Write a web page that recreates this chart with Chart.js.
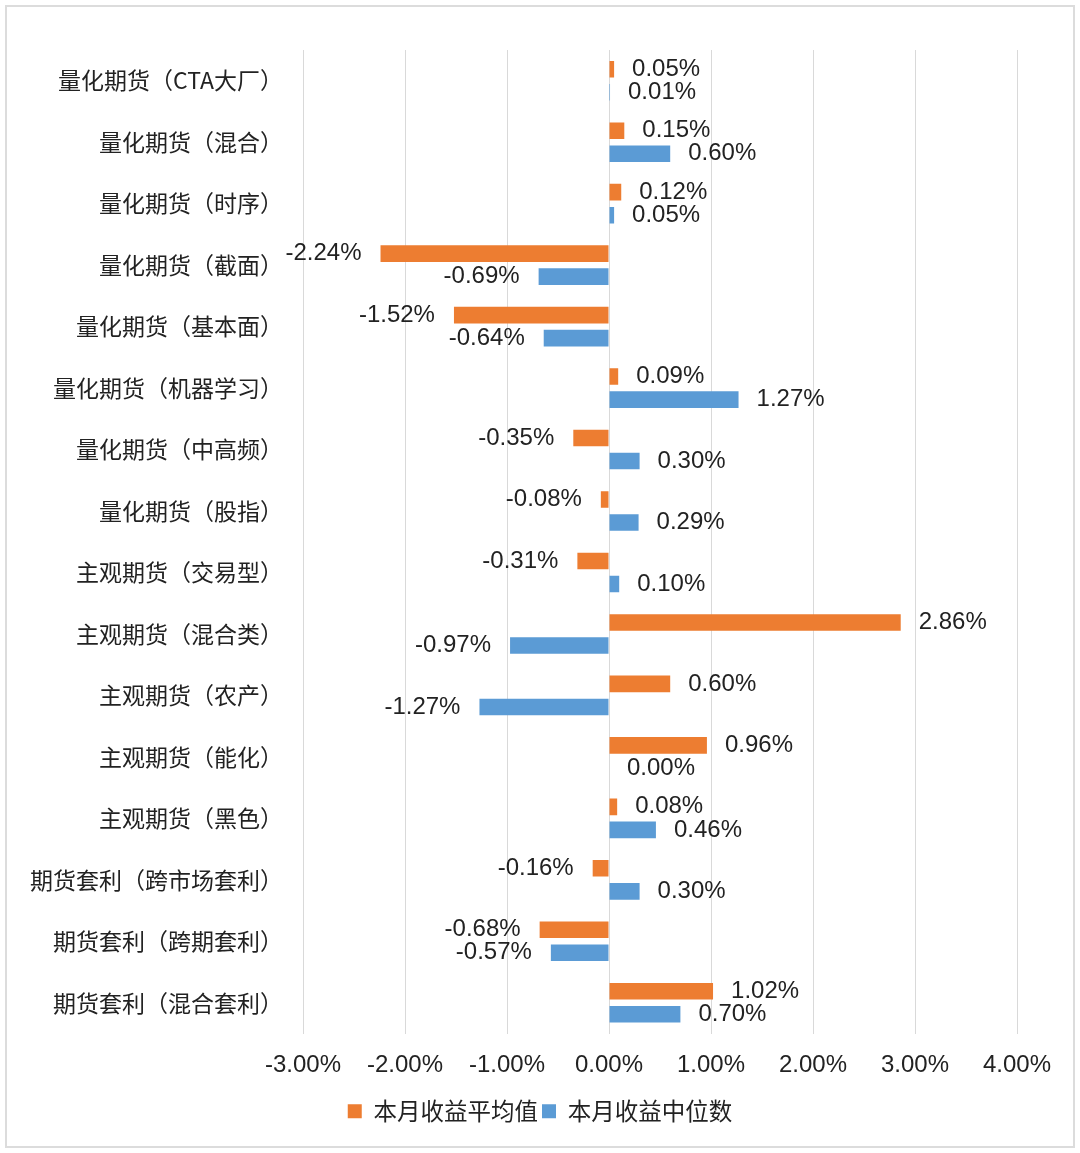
<!DOCTYPE html>
<html>
<head>
<meta charset="utf-8">
<script src="https://cdn.jsdelivr.net/npm/chart.js@4.4.1/dist/chart.umd.min.js"></script>
<style>
  html, body { margin: 0; padding: 0; background: #fff; }
  #frame { position: absolute; left: 5px; top: 5px; width: 1066px; height: 1139px; border: 2px solid #dcdcdc; }
  #wrap { position: absolute; left: 0; top: 0; width: 1080px; height: 1153px; }
</style>
</head>
<body>
<div id="frame"></div>
<div id="wrap"><canvas id="barChart" width="1080" height="1153"></canvas></div>
<script>
const categories = [
  "量化期货（CTA大厂）", "量化期货（混合）", "量化期货（时序）", "量化期货（截面）",
  "量化期货（基本面）", "量化期货（机器学习）", "量化期货（中高频）", "量化期货（股指）",
  "主观期货（交易型）", "主观期货（混合类）", "主观期货（农产）", "主观期货（能化）",
  "主观期货（黑色）", "期货套利（跨市场套利）", "期货套利（跨期套利）", "期货套利（混合套利）"
];
const avgReturn = [0.05, 0.15, 0.12, -2.24, -1.52, 0.09, -0.35, -0.08, -0.31, 2.86, 0.60, 0.96, 0.08, -0.16, -0.68, 1.02];
const medianReturn = [0.01, 0.60, 0.05, -0.69, -0.64, 1.27, 0.30, 0.29, 0.10, -0.97, -1.27, 0.00, 0.46, 0.30, -0.57, 0.70];
const tickValues = [-3, -2, -1, 0, 1, 2, 3, 4];

const numFont = "24px 'Liberation Sans', Arial, sans-serif";

// draws the value next to each bar, like excel data labels
const barLabels = {
  id: "barLabels",
  afterDatasetsDraw(chart) {
    const ctx = chart.ctx;
    ctx.save();
    ctx.font = numFont;
    ctx.fillStyle = "#222";
    ctx.textBaseline = "middle";
    chart.data.datasets.forEach((ds, i) => {
      const meta = chart.getDatasetMeta(i);
      meta.data.forEach((bar, j) => {
        const v = ds.data[j];
        const txt = v.toFixed(2) + "%";
        if (v < 0) {
          ctx.textAlign = "right";
          ctx.fillText(txt, bar.x - 19, bar.y);
        } else {
          ctx.textAlign = "left";
          ctx.fillText(txt, bar.x + 18, bar.y);
        }
      });
    });
    ctx.restore();
  }
};

const CHART = document.getElementById("barChart");
let barChart = new Chart(CHART, {
  type: "bar",
  data: {
    labels: categories,
    datasets: [
      {
        label: "本月收益平均值",
        data: avgReturn,
        backgroundColor: "#ED7D31",
        categoryPercentage: 0.75,
        barPercentage: 0.72
      },
      {
        label: "本月收益中位数",
        data: medianReturn,
        backgroundColor: "#5B9BD5",
        categoryPercentage: 0.75,
        barPercentage: 0.72
      }
    ]
  },
  options: {
    indexAxis: "y",
    responsive: false,
    animation: false,
    layout: { padding: { left: 0, right: 0, top: 50, bottom: 20 } },
    plugins: {
      tooltip: { enabled: false },
      legend: {
        position: "bottom",
        labels: {
          font: { family: "'Noto Sans CJK SC', sans-serif", size: 23.5 },
          color: "#222",
          boxWidth: 14,
          boxHeight: 14,
          padding: 4
        }
      }
    },
    scales: {
      x: {
        min: -3,
        max: 4,
        afterBuildTicks(scale) {
          scale.ticks = tickValues.map(v => ({ value: v }));
        },
        afterFit(scale) { scale.height = 62; },
        ticks: {
          font: { family: "'Liberation Sans', Arial, sans-serif", size: 24 },
          color: "#222",
          padding: 17,
          maxRotation: 0,
          callback: v => Number(v).toFixed(2) + "%"
        },
        grid: { color: "#d9d9d9", lineWidth: 1, drawTicks: false },
        border: { display: false }
      },
      y: {
        afterFit(scale) { scale.width = 303; },
        ticks: {
          font: { family: "'Noto Sans CJK SC', sans-serif", size: 23 },
          color: "#222",
          padding: 20,
          autoSkip: false
        },
        grid: { display: false, drawTicks: false },
        border: { display: false }
      },
      // empty spacer on the right so the legend stays centred on the page
      spacer: {
        type: "category",
        position: "right",
        afterFit(scale) { scale.width = 63; },
        ticks: { display: false },
        grid: { display: false, drawTicks: false },
        border: { display: false }
      }
    }
  },
  plugins: [barLabels]
});
</script>
</body>
</html>
